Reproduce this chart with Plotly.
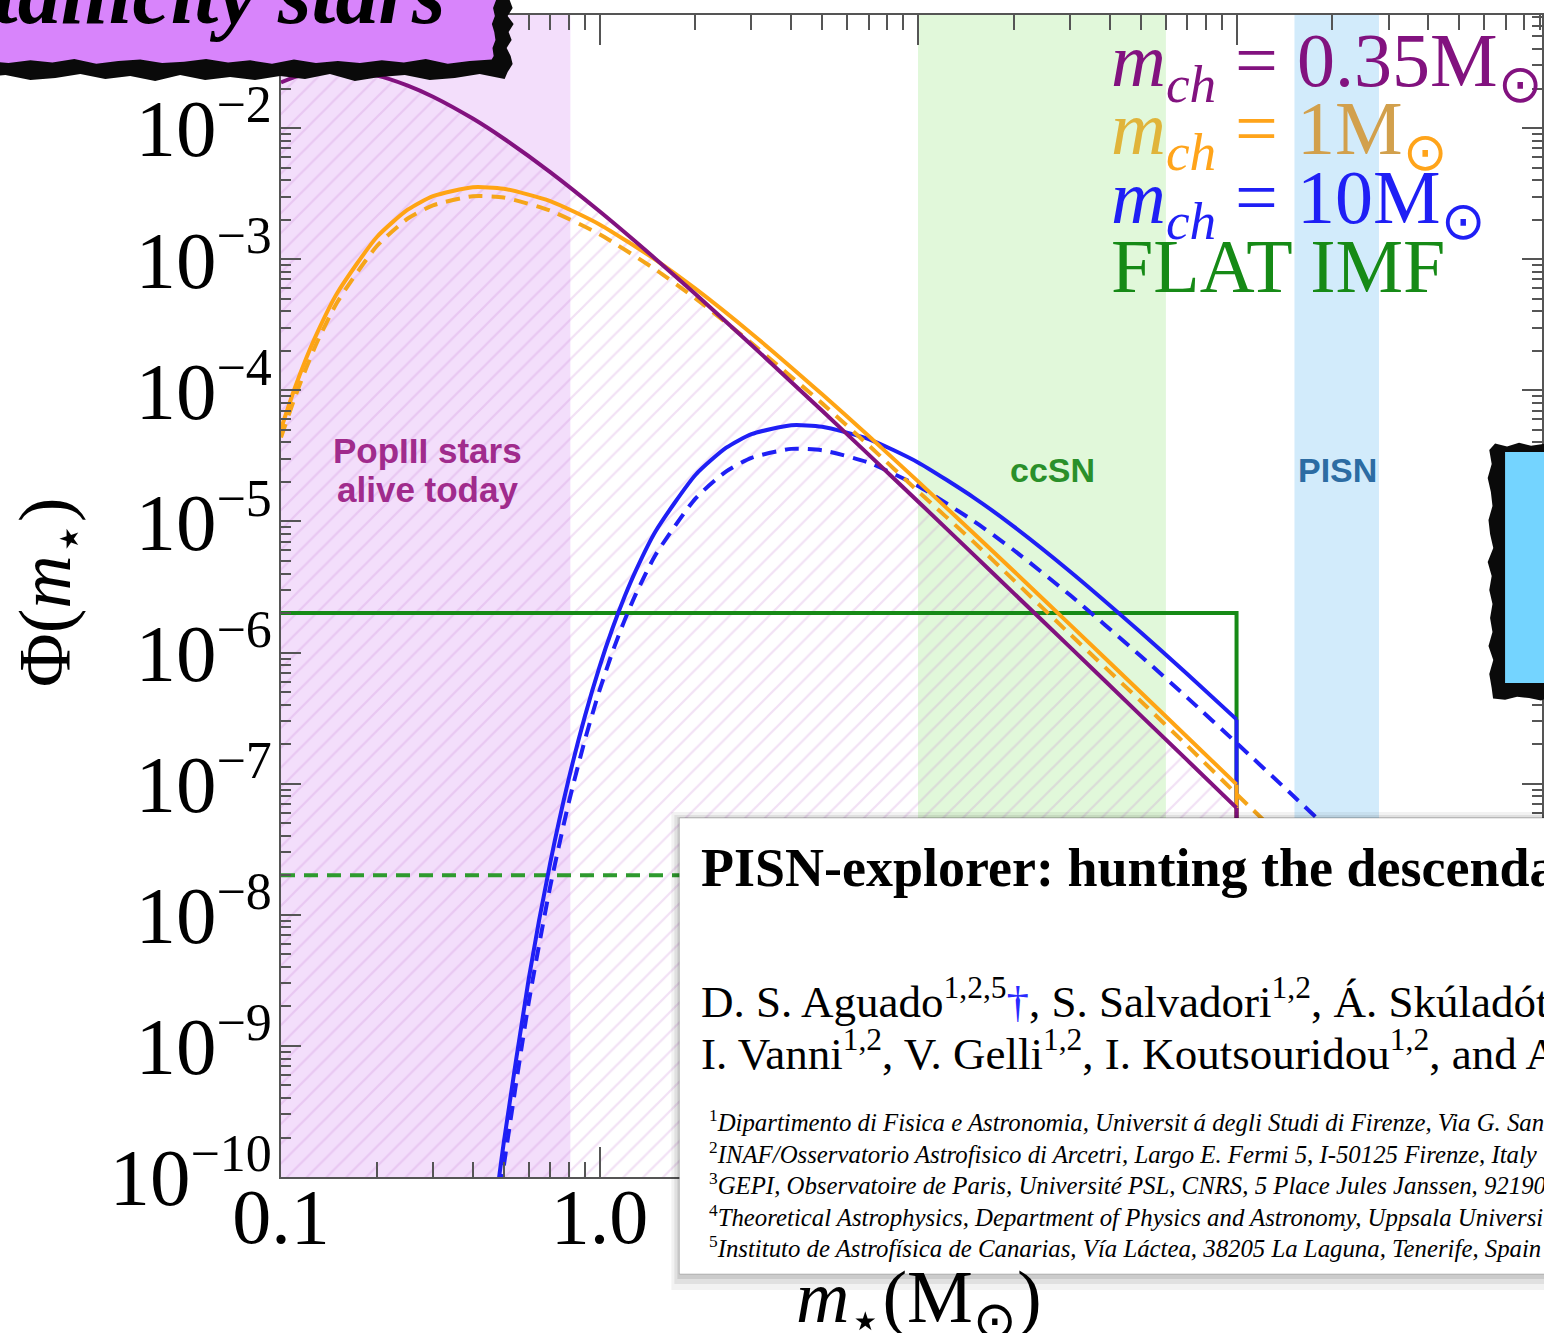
import plotly.graph_objects as go

# ---------------- page / plot-area geometry (pixels) ----------------
W, H = 1544, 1333
L, R, T, B = 281, 1544, 15, 1177


def px(x):
    return (x - L) / (R - L)


def py(y):
    return 1 - (y - T) / (B - T)


# ---------------- data ----------------
mass = [0.1, 0.11, 0.12, 0.13, 0.15, 0.2, 0.25, 0.3, 0.4, 0.5, 0.7, 1, 1.5, 2, 3,
        5, 7, 10, 15, 20, 30, 50, 70, 100]
log_phi_mch035 = [-1.653, -1.612, -1.586, -1.570, -1.560, -1.600, -1.676, -1.761,
                  -1.928, -2.080, -2.336, -2.635, -2.998, -3.266, -3.655, -4.156,
                  -4.491, -4.848, -5.257, -5.549, -5.959, -6.479, -6.821, -7.185]
log_phi_mch1 = [-4.294, -3.996, -3.756, -3.560, -3.260, -2.831, -2.623, -2.520,
                -2.452, -2.463, -2.557, -2.735, -3.005, -3.225, -3.567, -4.031,
                -4.349, -4.695, -5.094, -5.380, -5.787, -6.303, -6.644, -7.006]
mass_ext = mass + [150, 200, 300, 500, 1000]
log_phi_mch1_dashed = [-4.36, -4.07, -3.83, -3.63, -3.33, -2.90, -2.69, -2.59,
                       -2.52, -2.53, -2.63, -2.81, -3.08, -3.30, -3.64, -4.10,
                       -4.42, -4.77, -5.16, -5.45, -5.86, -6.37, -6.71, -7.08,
                       -7.49, -7.78, -8.19, -8.72, -9.42]

mass_b = [0.45, 0.5, 0.6, 0.7, 0.8, 0.9, 1, 1.1, 1.2, 1.3, 1.5, 2, 2.5, 3, 4, 5,
          7, 10, 15, 20, 30, 50, 70, 100]
log_phi_mch10 = [-10.60, -9.745, -8.483, -7.606, -6.967, -6.485, -6.109, -5.811,
                 -5.571, -5.375, -5.075, -4.646, -4.438, -4.335, -4.267, -4.278,
                 -4.372, -4.550, -4.820, -5.040, -5.382, -5.846, -6.164, -6.510]
mass_b_ext = mass_b + [150, 200, 300, 500, 1000]
log_phi_mch10_dashed = [-10.78, -9.925, -8.663, -7.786, -7.147, -6.665, -6.289,
                        -5.991, -5.751, -5.555, -5.255, -4.826, -4.618, -4.515,
                        -4.447, -4.458, -4.552, -4.730, -5.000, -5.220, -5.562,
                        -6.026, -6.344, -6.690, -7.089, -7.375, -7.782, -8.298, -9.00]

flat_mass = [0.1, 100]
flat_mass_dashed = [0.1, 1000]
flat_phi = 2.0e-6
flat_phi_dashed = 2.0e-8
cutoff_mass = 100
floor_phi = 1e-12

popIII_range = [0.1, 0.81]
ccsn_range = [10, 60]
pisn_range = [152, 280]

y_tick_exp = [-10, -9, -8, -7, -6, -5, -4, -3, -2]
x_tick_vals = [0.1, 1, 10, 100]
x_tick_text = ["0.1", "1.0", "10", "100"]


def tolin(v):
    return [10 ** a for a in v]


PURPLE = "#82127f"
ORANGE = "#ffa414"
BLUE = "#1f1ff5"
GREEN = "#168a16"
SERIF = "Liberation Serif"

fig = go.Figure()

# hatched region under the m_ch = 0.35 curve
fig.add_trace(go.Scatter(
    x=mass + [mass[-1], mass[0]],
    y=tolin(log_phi_mch035) + [floor_phi, floor_phi],
    mode="none", fill="toself", fillcolor="rgba(0,0,0,0)",
    fillpattern=dict(shape="/", fgcolor="rgba(190,110,205,0.42)",
                     bgcolor="rgba(0,0,0,0)", size=14, solidity=0.16),
    hoverinfo="skip"))

# flat IMF
fig.add_trace(go.Scatter(x=flat_mass_dashed, y=[flat_phi_dashed] * 2, mode="lines",
                         line=dict(color="#2e9a2e", width=4, dash="14px,9px")))
fig.add_trace(go.Scatter(x=flat_mass + [cutoff_mass], y=[flat_phi, flat_phi, floor_phi],
                         mode="lines", line=dict(color=GREEN, width=4)))

# m_ch = 10
fig.add_trace(go.Scatter(x=mass_b_ext, y=tolin(log_phi_mch10_dashed), mode="lines",
                         line=dict(color=BLUE, width=4, dash="14px,9px", shape="spline",
                                   smoothing=0.6)))
fig.add_trace(go.Scatter(x=mass_b, y=tolin(log_phi_mch10), mode="lines",
                         line=dict(color=BLUE, width=4, shape="spline", smoothing=0.6)))
fig.add_trace(go.Scatter(x=[cutoff_mass, cutoff_mass], y=[10 ** log_phi_mch10[-1], floor_phi],
                         mode="lines", line=dict(color=BLUE, width=4)))

# m_ch = 1
fig.add_trace(go.Scatter(x=mass_ext, y=tolin(log_phi_mch1_dashed), mode="lines",
                         line=dict(color="#f5a51a", width=4, dash="14px,9px", shape="spline",
                                   smoothing=0.6)))
fig.add_trace(go.Scatter(x=mass, y=tolin(log_phi_mch1), mode="lines",
                         line=dict(color=ORANGE, width=4, shape="spline", smoothing=0.6)))
fig.add_trace(go.Scatter(x=[cutoff_mass, cutoff_mass], y=[10 ** log_phi_mch1[-1], floor_phi],
                         mode="lines", line=dict(color=ORANGE, width=4)))

# m_ch = 0.35
fig.add_trace(go.Scatter(x=mass, y=tolin(log_phi_mch035), mode="lines",
                         line=dict(color=PURPLE, width=4, shape="spline", smoothing=0.6)))
fig.add_trace(go.Scatter(x=[cutoff_mass, cutoff_mass], y=[10 ** log_phi_mch035[-1], floor_phi],
                         mode="lines", line=dict(color=PURPLE, width=4)))

shapes = []
# shaded mass ranges
for rng, col in [(popIII_range, "#f3defb"), (ccsn_range, "#e1f8da"), (pisn_range, "#d2ebfb")]:
    shapes.append(dict(type="rect", xref="x", yref="paper", x0=rng[0], x1=rng[1],
                       y0=0, y1=1, fillcolor=col, line_width=0, layer="below"))


def prect(x0, y0, x1, y1, fill, line=None):
    d = dict(type="rect", xref="paper", yref="paper", x0=px(x0), x1=px(x1),
             y0=py(y1), y1=py(y0), fillcolor=fill, layer="above")
    if line:
        d["line"] = line
    else:
        d["line_width"] = 0
    return d


def ppath(points, fill):
    d = "M " + " L ".join(f"{px(a):.5f},{py(b):.5f}" for a, b in points) + " Z"
    return dict(type="path", xref="paper", yref="paper", path=d, fillcolor=fill,
                line_width=0, layer="above")


# ragged edge offsets (decoration only)
jag = [0, 3, -2, 4, -1, 2, -3, 1, 3, -2, 0, 4, -3, 2, -1, 3]

# title box top-left: black ragged frame + purple fill
outer = [(-20, -20), (505, -20)]
for i, yy in enumerate(range(0, 80, 8)):
    outer.append((510 + jag[i % len(jag)], yy))
for i, xx in enumerate(range(505, -25, -25)):
    outer.append((xx, 77 + jag[(i + 5) % len(jag)]))
outer.append((-20, 78))
shapes.append(ppath(outer, "#0a0a0a"))
inner = [(-20, -20), (494, -20)]
for i, yy in enumerate(range(0, 64, 8)):
    inner.append((494 + jag[(i + 3) % len(jag)] * 0.6, yy))
for i, xx in enumerate(range(492, -25, -22)):
    inner.append((xx, 61 + jag[(i + 9) % len(jag)] * 0.7))
inner.append((-20, 62))
shapes.append(ppath(inner, "#d884fb"))

# blue box on the right: ragged black frame + blue fill
bout = [(1570, 443)]
for i, xx in enumerate(range(1545, 1490, -12)):
    bout.append((xx, 444 + jag[i % len(jag)] * 0.6))
for i, yy in enumerate(range(450, 700, 14)):
    bout.append((1492 + jag[(i + 4) % len(jag)] * 0.8, yy))
for i, xx in enumerate(range(1495, 1571, 12)):
    bout.append((xx, 698 + jag[(i + 7) % len(jag)] * 0.6))
shapes.append(ppath(bout, "#0a0a0a"))
shapes.append(prect(1507, 452, 1570, 683, "#74d4ff"))

# paper snippet with shadow
shapes.append(prect(672, 812, 1570, 1290, "rgba(0,0,0,0.05)"))
shapes.append(prect(675, 815, 1570, 1284, "rgba(0,0,0,0.07)"))
shapes.append(prect(678, 817, 1570, 1279, "rgba(0,0,0,0.09)"))
shapes.append(prect(680, 818, 1570, 1274, "white",
                    line=dict(color="rgba(0,0,0,0.18)", width=1)))

ann = []


def text(x, y, s, size, color="black", family=SERIF, xanchor="left", yanchor="middle",
         angle=0):
    ann.append(dict(xref="paper", yref="paper", x=px(x), y=py(y), text=s, showarrow=False,
                    xanchor=xanchor, yanchor=yanchor, textangle=angle,
                    font=dict(family=family, size=size, color=color)))


# legend-like labels
text(1110, 66, "<i>m</i><sub><i>ch</i></sub> = 0.35M<sub>⊙</sub>", 76, PURPLE)
text(1110, 134, "<span style='color:#e0b43a'><i>m</i></span><sub><i>ch</i></sub> = "
     "<span style='color:#d2a04c'>1M</span><sub>⊙</sub>", 76, "#ffa41a")
text(1110, 203, "<i>m</i><sub><i>ch</i></sub> = 10M<sub>⊙</sub>", 76, BLUE)
text(1110, 266, "FLAT IMF", 76, GREEN)

# region labels
text(428, 450, "<b>PopIII stars</b>", 35, "#a02b8c", "Liberation Sans", "center")
text(428, 490, "<b>alive today</b>", 35, "#a02b8c", "Liberation Sans", "center")
text(1054, 470, "<b>ccSN</b>", 34, "#2a902a", "Liberation Sans", "center")
text(1339, 470, "<b>PISN</b>", 34, "#2c6ca3", "Liberation Sans", "center")

# axis titles
text(50, 592, "Φ(<i>m</i><sub>⋆</sub>)", 74, "black", SERIF, "center", angle=-90)
text(920, 1302, "<i>m</i><sub>⋆</sub>(M<sub>⊙</sub>)", 74, "black", SERIF, "center")

# title box text
text(447, 44, "<b><i>Zero-metallicity stars</i></b>", 86, "black", SERIF, "right", "bottom")

# paper snippet text
text(700, 868, "<b>PISN-explorer: hunting the descendants of very massive first stars</b>",
     54, "black")
text(700, 998, "D. S. Aguado<sup>1,2,5</sup><span style='color:#2a2aff'>†</span>, "
     "S. Salvadori<sup>1,2</sup>, Á. Skúladóttir<sup>3,4</sup>, P. Bonifacio<sup>3</sup>",
     45, "black")
text(700, 1050, "I. Vanni<sup>1,2</sup>, V. Gelli<sup>1,2</sup>, I. Koutsouridou<sup>1,2</sup>, "
     "and A. Mucciarelli<sup>3</sup>", 45, "black")
affils = [
    "Dipartimento di Fisica e Astronomia, Universit á degli Studi di Firenze, Via G. Sansone 1, I-50019 Sesto Fiorentino, Italy",
    "INAF/Osservatorio Astrofisico di Arcetri, Largo E. Fermi 5, I-50125 Firenze, Italy",
    "GEPI, Observatoire de Paris, Université PSL, CNRS, 5 Place Jules Janssen, 92190 Meudon, France",
    "Theoretical Astrophysics, Department of Physics and Astronomy, Uppsala University, Box 516, Sweden",
    "Instituto de Astrofísica de Canarias, Vía Láctea, 38205 La Laguna, Tenerife, Spain",
]
for i, a in enumerate(affils):
    text(708, 1121 + 31.5 * i, f"<sup>{i + 1}</sup><i>{a}</i>", 24.8, "black")

minor_x = [k * 10 ** e for e in range(-1, 3) for k in range(2, 10)]
minor_y = [k * 10.0 ** e for e in range(-10, -1) for k in range(2, 10)]

AX = "#555555"
fig.update_layout(
    width=W, height=H,
    margin=dict(l=L, r=W - R, t=T, b=H - B, pad=0),
    paper_bgcolor="white", plot_bgcolor="white",
    showlegend=False, shapes=shapes, annotations=ann,
    xaxis=dict(type="log", range=[-1, 2.959], tickmode="array", tickvals=x_tick_vals,
               ticktext=x_tick_text, ticks="inside", ticklen=30, tickwidth=2, tickcolor=AX,
               showline=True, linecolor=AX, linewidth=2, mirror="ticks", showgrid=False,
               zeroline=False, ticklabelstandoff=-30,
               tickfont=dict(family=SERIF, size=78, color="black"),
               minor=dict(tickmode="array", tickvals=minor_x, ticks="inside", ticklen=15,
                          tickwidth=2, tickcolor=AX, showgrid=False)),
    yaxis=dict(type="log", range=[-10, -1.138], tickmode="array",
               tickvals=[10.0 ** e for e in y_tick_exp],
               ticktext=[f"10<sup><span style='font-size:52px'>−{-e}</span></sup>"
                         for e in y_tick_exp],
               ticks="inside", ticklen=20, tickwidth=2, tickcolor=AX,
               showline=True, linecolor=AX, linewidth=2, mirror="ticks", showgrid=False,
               zeroline=False, ticklabelstandoff=-9,
               tickfont=dict(family=SERIF, size=81, color="black"),
               minor=dict(tickmode="array", tickvals=minor_y, ticks="inside", ticklen=10,
                          tickwidth=2, tickcolor=AX, showgrid=False)),
)

fig.write_html("out.html")
